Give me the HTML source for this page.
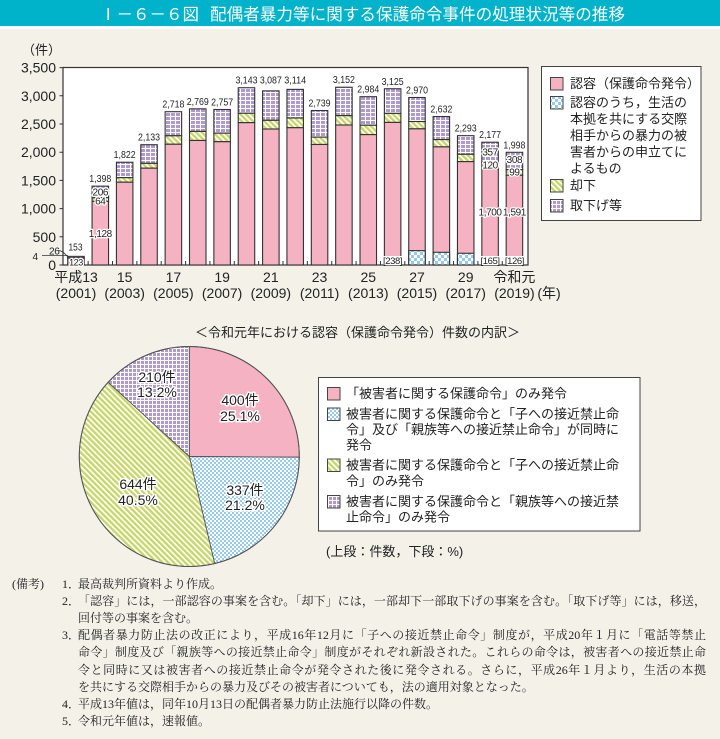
<!DOCTYPE html>
<html><head><meta charset="utf-8">
<style>
html,body{margin:0;padding:0;}
body{width:720px;height:739px;background:#f4f1e9;position:relative;overflow:hidden;font-family:"Liberation Sans","Noto Sans CJK JP",sans-serif;}
svg{position:absolute;left:0;top:0;}
.notes{position:absolute;left:0;top:576px;width:720px;font-family:"Liberation Serif","Noto Serif CJK SC",serif;font-size:12px;line-height:17.1px;color:#222;}
.nl{position:absolute;white-space:nowrap;}
.j{text-align:justify;text-align-last:justify;width:628px;}
</style></head><body>
<svg width="720" height="739" viewBox="0 0 720 739" xmlns="http://www.w3.org/2000/svg" font-family="Liberation Sans, Noto Sans CJK JP, sans-serif">
<defs>
<pattern id="pu" width="5" height="4" patternUnits="userSpaceOnUse">
<rect width="5" height="4" fill="#b09acd"/>
<path d="M0 0.5H5M0.5 0V4" stroke="#fff" stroke-width="1"/>
</pattern>
<pattern id="gr" width="4" height="4" patternUnits="userSpaceOnUse" patternTransform="rotate(-45)">
<rect width="4" height="4" fill="#fff"/>
<rect width="2.3" height="4" fill="#c6d665"/>
</pattern>
<pattern id="bl" width="6" height="6" patternUnits="userSpaceOnUse">
<rect width="6" height="6" fill="#fff"/>
<rect width="3" height="3" fill="#95c9ee"/>
<rect x="3" y="3" width="3" height="3" fill="#95c9ee"/>
</pattern>
<pattern id="blp" width="4" height="4" patternUnits="userSpaceOnUse">
<rect width="4" height="4" fill="#fff"/>
<rect width="2" height="2" fill="#95c9ee"/>
<rect x="2" y="2" width="2" height="2" fill="#95c9ee"/>
</pattern>
<pattern id="pup" width="4" height="4" patternUnits="userSpaceOnUse">
<rect width="4" height="4" fill="#b09acd"/>
<path d="M0 0.5H4M0.5 0V4" stroke="#fff" stroke-width="1"/>
</pattern>
</defs>

<!-- title bar -->
<rect x="0" y="0" width="720" height="26" fill="#00b2ca"/>
<rect x="0" y="26" width="720" height="3" fill="#ffffff"/>
<text x="100" y="20" font-size="16.5" fill="#fff">Ⅰ－６－６図</text>
<text x="210" y="20" font-size="16.5" fill="#fff" textLength="415" lengthAdjust="spacingAndGlyphs">配偶者暴力等に関する保護命令事件の処理状況等の推移</text>

<!-- bar chart frame -->
<rect x="63" y="67.5" width="465" height="197.5" fill="#fff" stroke="#333" stroke-width="1.2"/>
<g stroke="#333" stroke-width="1">
<path d="M59.5 67.6H63M59.5 95.8H63M59.5 124H63M59.5 152.2H63M59.5 180.4H63M59.5 208.6H63M59.5 236.8H63M59.5 265H63"/>
<path d="M88.13 265v-4M112.49 265v-4M136.85 265v-4M161.21 265v-4M185.57 265v-4M209.93 265v-4M234.29 265v-4M258.65 265v-4M283.01 265v-4M307.37 265v-4M331.73 265v-4M356.09 265v-4M380.45 265v-4M404.81 265v-4M429.17 265v-4M453.53 265v-4M477.89 265v-4M502.25 265v-4"/>
</g>
<g font-size="14" fill="#222" text-anchor="end">
<text x="56" y="72.6">3,500</text>
<text x="56" y="100.8">3,000</text>
<text x="56" y="129">2,500</text>
<text x="56" y="157.2">2,000</text>
<text x="56" y="185.4">1,500</text>
<text x="56" y="213.6">1,000</text>
<text x="56" y="241.8">500</text>
<text x="56" y="270">0</text>
</g>
<text x="22" y="54.5" font-size="13" fill="#222">（件）</text>

<!-- bars -->
<g stroke="#333" stroke-width="1.1">
<rect x="67.7" y="256.37" width="16.5" height="1.47" fill="url(#pu)"/><rect x="67.7" y="257.84" width="16.5" height="0.22" fill="url(#gr)"/><rect x="67.7" y="258.06" width="16.5" height="6.94" fill="#f4b2c2"/>
<rect x="92.06" y="186.15" width="16.5" height="11.62" fill="url(#pu)"/><rect x="92.06" y="197.77" width="16.5" height="3.61" fill="url(#gr)"/><rect x="92.06" y="201.38" width="16.5" height="63.62" fill="#f4b2c2"/>
<rect x="116.42" y="162.24" width="16.5" height="15.45" fill="url(#pu)"/><rect x="116.42" y="177.69" width="16.5" height="4.51" fill="url(#gr)"/><rect x="116.42" y="182.2" width="16.5" height="82.8" fill="#f4b2c2"/>
<rect x="140.78" y="144.7" width="16.5" height="18.67" fill="url(#pu)"/><rect x="140.78" y="163.37" width="16.5" height="4.79" fill="url(#gr)"/><rect x="140.78" y="168.16" width="16.5" height="96.84" fill="#f4b2c2"/>
<rect x="165.14" y="111.7" width="16.5" height="24.09" fill="url(#pu)"/><rect x="165.14" y="135.79" width="16.5" height="8.46" fill="url(#gr)"/><rect x="165.14" y="144.25" width="16.5" height="120.75" fill="#f4b2c2"/>
<rect x="189.5" y="108.83" width="16.5" height="22.61" fill="url(#pu)"/><rect x="189.5" y="131.44" width="16.5" height="9.03" fill="url(#gr)"/><rect x="189.5" y="140.47" width="16.5" height="124.53" fill="#f4b2c2"/>
<rect x="213.86" y="109.51" width="16.5" height="23.68" fill="url(#pu)"/><rect x="213.86" y="133.19" width="16.5" height="8.52" fill="url(#gr)"/><rect x="213.86" y="141.71" width="16.5" height="123.29" fill="#f4b2c2"/>
<rect x="238.22" y="87.73" width="16.5" height="25.55" fill="url(#pu)"/><rect x="238.22" y="113.28" width="16.5" height="9.37" fill="url(#gr)"/><rect x="238.22" y="122.65" width="16.5" height="142.35" fill="#f4b2c2"/>
<rect x="262.58" y="90.89" width="16.5" height="29.44" fill="url(#pu)"/><rect x="262.58" y="120.33" width="16.5" height="8.69" fill="url(#gr)"/><rect x="262.58" y="129.02" width="16.5" height="135.98" fill="#f4b2c2"/>
<rect x="286.94" y="89.37" width="16.5" height="28.65" fill="url(#pu)"/><rect x="286.94" y="118.02" width="16.5" height="9.7" fill="url(#gr)"/><rect x="286.94" y="127.72" width="16.5" height="137.28" fill="#f4b2c2"/>
<rect x="311.3" y="110.52" width="16.5" height="26.62" fill="url(#pu)"/><rect x="311.3" y="137.14" width="16.5" height="7.33" fill="url(#gr)"/><rect x="311.3" y="144.47" width="16.5" height="120.53" fill="#f4b2c2"/>
<rect x="335.66" y="87.23" width="16.5" height="28.42" fill="url(#pu)"/><rect x="335.66" y="115.65" width="16.5" height="9.37" fill="url(#gr)"/><rect x="335.66" y="125.02" width="16.5" height="139.98" fill="#f4b2c2"/>
<rect x="360.02" y="96.7" width="16.5" height="28.54" fill="url(#pu)"/><rect x="360.02" y="125.24" width="16.5" height="9.36" fill="url(#gr)"/><rect x="360.02" y="134.6" width="16.5" height="130.4" fill="#f4b2c2"/>
<rect x="384.38" y="88.75" width="16.5" height="24.65" fill="url(#pu)"/><rect x="384.38" y="113.4" width="16.5" height="9.02" fill="url(#gr)"/><rect x="384.38" y="122.42" width="16.5" height="142.58" fill="#f4b2c2"/>
<rect x="408.74" y="97.49" width="16.5" height="24.03" fill="url(#pu)"/><rect x="408.74" y="121.52" width="16.5" height="7.33" fill="url(#gr)"/><rect x="408.74" y="128.85" width="16.5" height="136.15" fill="#f4b2c2"/><rect x="408.74" y="250.62" width="16.5" height="14.38" fill="url(#bl)"/>
<rect x="433.1" y="116.56" width="16.5" height="23.01" fill="url(#pu)"/><rect x="433.1" y="139.57" width="16.5" height="7.33" fill="url(#gr)"/><rect x="433.1" y="146.9" width="16.5" height="118.1" fill="#f4b2c2"/><rect x="433.1" y="252.31" width="16.5" height="12.69" fill="url(#bl)"/>
<rect x="457.46" y="135.67" width="16.5" height="18.62" fill="url(#pu)"/><rect x="457.46" y="154.29" width="16.5" height="7.33" fill="url(#gr)"/><rect x="457.46" y="161.62" width="16.5" height="103.38" fill="#f4b2c2"/><rect x="457.46" y="253.27" width="16.5" height="11.73" fill="url(#bl)"/>
<rect x="481.82" y="142.22" width="16.5" height="20.13" fill="url(#pu)"/><rect x="481.82" y="162.35" width="16.5" height="6.77" fill="url(#gr)"/><rect x="481.82" y="169.12" width="16.5" height="95.88" fill="#f4b2c2"/>
<rect x="506.18" y="152.31" width="16.5" height="17.37" fill="url(#pu)"/><rect x="506.18" y="169.68" width="16.5" height="5.59" fill="url(#gr)"/><rect x="506.18" y="175.27" width="16.5" height="89.73" fill="#f4b2c2"/>
</g>

<!-- total labels -->
<g font-size="10.5" fill="#222" text-anchor="middle">
<text x="75.5" y="250.5" textLength="14" lengthAdjust="spacingAndGlyphs">153</text>
<text x="100.31" y="182.15" textLength="22" lengthAdjust="spacingAndGlyphs">1,398</text>
<text x="124.67" y="158.24" textLength="22" lengthAdjust="spacingAndGlyphs">1,822</text>
<text x="149.03" y="140.7" textLength="22" lengthAdjust="spacingAndGlyphs">2,133</text>
<text x="173.39" y="107.7" textLength="22" lengthAdjust="spacingAndGlyphs">2,718</text>
<text x="197.75" y="104.83" textLength="22" lengthAdjust="spacingAndGlyphs">2,769</text>
<text x="222.11" y="105.51" textLength="22" lengthAdjust="spacingAndGlyphs">2,757</text>
<text x="246.47" y="83.73" textLength="22" lengthAdjust="spacingAndGlyphs">3,143</text>
<text x="270.83" y="83.73" textLength="22" lengthAdjust="spacingAndGlyphs">3,087</text>
<text x="295.19" y="83.73" textLength="22" lengthAdjust="spacingAndGlyphs">3,114</text>
<text x="319.55" y="106.52" textLength="22" lengthAdjust="spacingAndGlyphs">2,739</text>
<text x="343.91" y="83.23" textLength="22" lengthAdjust="spacingAndGlyphs">3,152</text>
<text x="368.27" y="92.7" textLength="22" lengthAdjust="spacingAndGlyphs">2,984</text>
<text x="392.63" y="84.75" textLength="22" lengthAdjust="spacingAndGlyphs">3,125</text>
<text x="416.99" y="93.49" textLength="22" lengthAdjust="spacingAndGlyphs">2,970</text>
<text x="441.35" y="112.56" textLength="22" lengthAdjust="spacingAndGlyphs">2,632</text>
<text x="465.71" y="131.67" textLength="22" lengthAdjust="spacingAndGlyphs">2,293</text>
<text x="490.07" y="138.22" textLength="22" lengthAdjust="spacingAndGlyphs">2,177</text>
<text x="514.43" y="148.31" textLength="22" lengthAdjust="spacingAndGlyphs">1,998</text>
</g>
<!-- 2001 small labels -->
<g font-size="10" fill="#222" letter-spacing="-0.3">
<text x="49" y="254.5">26</text>
<text x="32.5" y="260">4</text>
</g>
<path d="M58.5 250.5 C62 250.5 64 253 68 257" fill="none" stroke="#333" stroke-width="0.8"/>
<path d="M42 255.5H68" fill="none" stroke="#333" stroke-width="0.8"/>
<!-- inside labels with halo -->
<g font-size="10" fill="#222" text-anchor="middle" letter-spacing="-0.4" stroke="#fff" stroke-width="2.6" paint-order="stroke" stroke-linejoin="round">
<text x="76" y="265.5" font-size="9">123</text>
<text x="100.31" y="195.5">206</text>
<text x="100.31" y="204.5">64</text>
<text x="100.31" y="237">1,128</text>
<text x="490.07" y="155.4">357</text>
<text x="490.07" y="168.7">120</text>
<text x="490.07" y="215.4">1,700</text>
<text x="514.43" y="163">308</text>
<text x="514.43" y="175.4">99</text>
<text x="514.43" y="215.4">1,591</text>
</g>
<g>
<rect x="383.4" y="256" width="18.5" height="9" fill="#fff"/>
<rect x="481" y="256" width="18.5" height="9" fill="#fff"/>
<rect x="505.3" y="256" width="18.5" height="9" fill="#fff"/>
</g>
<g font-size="9.5" fill="#222" text-anchor="middle" letter-spacing="-0.4">
<text x="392.63" y="264">[238]</text>
<text x="490.07" y="264">[165]</text>
<text x="514.43" y="264">[126]</text>
</g>

<!-- x labels -->
<g font-size="14" fill="#222" text-anchor="middle">
<text x="76" y="282">平成13</text>
<text x="124.67" y="282">15</text>
<text x="173.39" y="282">17</text>
<text x="222.11" y="282">19</text>
<text x="270.83" y="282">21</text>
<text x="319.55" y="282">23</text>
<text x="368.27" y="282">25</text>
<text x="416.99" y="282">27</text>
<text x="465.71" y="282">29</text>
<text x="514.43" y="282">令和元</text>
<text x="76" y="298">(2001)</text>
<text x="124.67" y="298">(2003)</text>
<text x="173.39" y="298">(2005)</text>
<text x="222.11" y="298">(2007)</text>
<text x="270.83" y="298">(2009)</text>
<text x="319.55" y="298">(2011)</text>
<text x="368.27" y="298">(2013)</text>
<text x="416.99" y="298">(2015)</text>
<text x="465.71" y="298">(2017)</text>
<text x="514.43" y="298">(2019)</text>
<text x="549" y="298">(年)</text>
</g>

<!-- legend 1 -->
<rect x="541.5" y="66.5" width="159.5" height="154" fill="#fff" stroke="#444" stroke-width="1"/>
<g stroke="#444" stroke-width="1">
<rect x="550.5" y="77.5" width="12.5" height="12.5" fill="#f4b2c2"/>
<rect x="550.5" y="96.5" width="12.5" height="12.5" fill="url(#bl)"/>
<rect x="550.5" y="179.5" width="12.5" height="12.5" fill="url(#gr)"/>
<rect x="550.5" y="199.5" width="12.5" height="12.5" fill="url(#pup)"/>
</g>
<g font-size="13" fill="#222">
<text x="570" y="88">認容（保護命令発令）</text>
<text x="570" y="107">認容のうち，生活の</text>
<text x="570" y="123.5">本拠を共にする交際</text>
<text x="570" y="140">相手からの暴力の被</text>
<text x="570" y="156.5">害者からの申立てに</text>
<text x="570" y="173">よるもの</text>
<text x="570" y="190">却下</text>
<text x="570" y="210">取下げ等</text>
</g>

<!-- pie title -->
<text x="195" y="337" font-size="13" fill="#222">＜令和元年における認容（保護命令発令）件数の内訳＞</text>

<!-- pie -->
<g stroke="#555" stroke-width="0.9">
<path d="M189.3 456.5 L189.3 346.5 A110 110 0 0 1 299.3 457.19 Z" fill="#f4b2c2"/>
<path d="M189.3 456.5 L299.3 457.19 A110 110 0 0 1 214.64 563.54 Z" fill="url(#blp)"/>
<path d="M189.3 456.5 L214.64 563.54 A110 110 0 0 1 108.17 382.19 Z" fill="url(#gr)"/>
<path d="M189.3 456.5 L108.17 382.19 A110 110 0 0 1 189.3 346.5 Z" fill="url(#pup)"/>
</g>
<circle cx="189.3" cy="456.5" r="110" fill="none" stroke="#555" stroke-width="1"/>
<g font-size="14" fill="#222" text-anchor="middle" stroke="#fff" stroke-width="3" paint-order="stroke" stroke-linejoin="round">
<text x="240" y="405">400件</text>
<text x="240" y="421">25.1%</text>
<text x="245" y="495">337件</text>
<text x="245" y="510">21.2%</text>
<text x="138" y="489">644件</text>
<text x="138" y="505">40.5%</text>
<text x="157" y="382">210件</text>
<text x="157" y="397">13.2%</text>
</g>

<!-- pie legend -->
<rect x="318.5" y="377.5" width="321.5" height="153.5" fill="#fff" stroke="#444" stroke-width="1"/>
<g stroke="#444" stroke-width="1">
<rect x="327.5" y="387.5" width="12.5" height="12.5" fill="#f4b2c2"/>
<rect x="327.5" y="408" width="12.5" height="12.5" fill="url(#blp)"/>
<rect x="327.5" y="459" width="12.5" height="12.5" fill="url(#gr)"/>
<rect x="327.5" y="495.5" width="12.5" height="12.5" fill="url(#pup)"/>
</g>
<g font-size="13" fill="#222">
<text x="346" y="398">「被害者に関する保護命令」のみ発令</text>
<text x="346" y="418.5">被害者に関する保護命令と「子への接近禁止命</text>
<text x="346" y="434">令」及び「親族等への接近禁止命令」が同時に</text>
<text x="346" y="449.5">発令</text>
<text x="346" y="469.5">被害者に関する保護命令と「子への接近禁止命</text>
<text x="346" y="485.5">令」のみ発令</text>
<text x="346" y="506">被害者に関する保護命令と「親族等への接近禁</text>
<text x="346" y="521.5">止命令」のみ発令</text>
</g>
<text x="326" y="556" font-size="13" fill="#222">(上段：件数，下段：%)</text>
</svg>

<div class="notes">
<div class="nl" style="left:12px;top:0px;">(備考)</div>
<div class="nl" style="left:62px;top:0px;">1．</div><div class="nl" style="left:78px;top:0px;">最高裁判所資料より作成。</div>
<div class="nl" style="left:62px;top:17.1px;">2．</div><div class="nl j" style="left:78px;top:17.1px;">「認容」には，一部認容の事案を含む。「却下」には，一部却下一部取下げの事案を含む。「取下げ等」には，移送，</div>
<div class="nl" style="left:78px;top:34.2px;">回付等の事案を含む。</div>
<div class="nl" style="left:62px;top:51.3px;">3．</div><div class="nl j" style="left:78px;top:51.3px;">配偶者暴力防止法の改正により，平成16年12月に「子への接近禁止命令」制度が，平成20年１月に「電話等禁止</div>
<div class="nl j" style="left:78px;top:68.4px;">命令」制度及び「親族等への接近禁止命令」制度がそれぞれ新設された。これらの命令は，被害者への接近禁止命</div>
<div class="nl j" style="left:78px;top:85.5px;">令と同時に又は被害者への接近禁止命令が発令された後に発令される。さらに，平成26年１月より，生活の本拠</div>
<div class="nl" style="left:78px;top:102.6px;">を共にする交際相手からの暴力及びその被害者についても，法の適用対象となった。</div>
<div class="nl" style="left:62px;top:119.7px;">4．</div><div class="nl" style="left:78px;top:119.7px;">平成13年値は，同年10月13日の配偶者暴力防止法施行以降の件数。</div>
<div class="nl" style="left:62px;top:136.8px;">5．</div><div class="nl" style="left:78px;top:136.8px;">令和元年値は，速報値。</div>
</div>
</body></html>
